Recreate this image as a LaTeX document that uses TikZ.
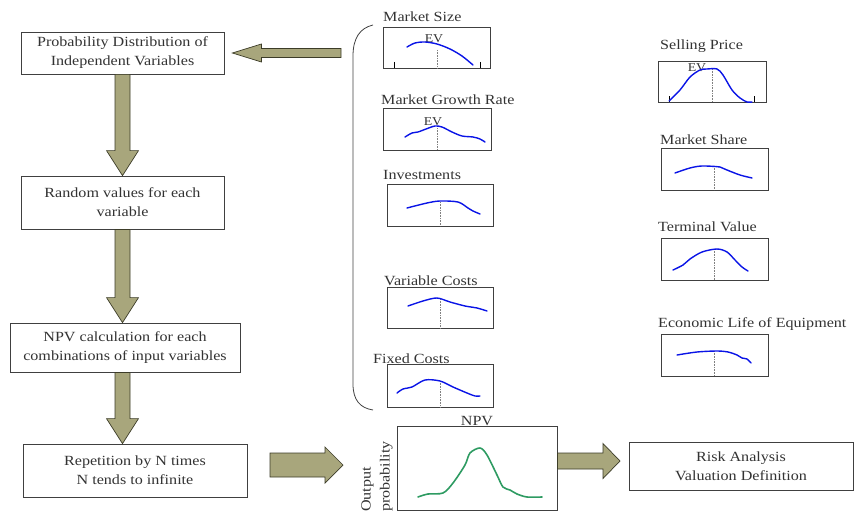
\documentclass[tikz,border=0pt]{standalone}
\usepackage{fontspec}
\setmainfont{Liberation Serif}[FakeStretch=1.15]
\usetikzlibrary{calc}
\definecolor{olivef}{HTML}{A8A67C}
\definecolor{olived}{HTML}{3C3C28}
\definecolor{txt}{HTML}{333333}
\definecolor{boxc}{HTML}{404040}
\definecolor{crvblue}{HTML}{0A14E6}
\definecolor{crvgreen}{HTML}{2E9B62}
\newcommand\fs{\fontsize{14}{19}\selectfont}
\newcommand\fsev{\fontsize{12}{13}\selectfont}
\newcommand\vblk[2]{\filldraw[blk] let \p1=(#1), \p2=(#2) in
 ({\x1-7.5pt},\y1) -- ({\x1+7.5pt},\y1) -- ({\x1+7.5pt},{\y2+25pt}) -- ({\x1+16pt},{\y2+25pt})
 -- (\x1,\y2) -- ({\x1-16pt},{\y2+25pt}) -- ({\x1-7.5pt},{\y2+25pt}) -- cycle;}
% right-pointing block arrow: start, tip, shaft half, head half, head length
\newcommand\rblk[5]{\filldraw[blk] let \p1=(#1), \p2=(#2) in
 (\x1,{\y1+#3pt}) -- ({\x2-#5pt},{\y1+#3pt}) -- ({\x2-#5pt},{\y1+#4pt}) -- (\x2,\y1)
 -- ({\x2-#5pt},{\y1-#4pt}) -- ({\x2-#5pt},{\y1-#3pt}) -- (\x1,{\y1-#3pt}) -- cycle;}
\newcommand\lblk[5]{\filldraw[blk] let \p1=(#1), \p2=(#2) in
 (\x1,{\y1+#3pt}) -- ({\x2+#5pt},{\y1+#3pt}) -- ({\x2+#5pt},{\y1+#4pt}) -- (\x2,\y1)
 -- ({\x2+#5pt},{\y1-#4pt}) -- ({\x2+#5pt},{\y1-#3pt}) -- (\x1,{\y1-#3pt}) -- cycle;}
\begin{document}
\begin{tikzpicture}[x=1pt,y=-1pt,
  box/.style={draw=boxc, line width=0.8pt, fill=white, inner sep=0pt, align=center, font=\fs, text=txt},
  blk/.style={fill=olivef, draw=olived, line width=0.7pt, line join=miter},
  gbox/.style={draw=boxc, line width=0.8pt, inner sep=0pt},
  lbl/.style={anchor=base west, inner sep=0pt, font=\fs, text=txt},
  evl/.style={inner sep=0pt, font=\fsev, text=txt},
  crv/.style={crvblue, line width=1.4pt, line cap=round, line join=round},
  evline/.style={draw=gray, densely dotted, line width=0.6pt},
  tick/.style={draw=black, line width=0.7pt},
]
\useasboundingbox (0,0) rectangle (854,511);

% left flow boxes
\node[box, minimum width=203pt, minimum height=42pt] (b1) at (122.5,53) {Probability Distribution of\\Independent Variables};
\node[box, minimum width=203pt, minimum height=53pt] (b2) at (122.5,202.5) {Random values for each\\variable};
\node[box, minimum width=230pt, minimum height=49pt] (b3) at (125,347.5) {NPV calculation for each\\combinations of input variables};
\node[box, minimum width=224pt, minimum height=53pt] (b4) at (135,470.5) {Repetition by N times\\N tends to infinite};
\node[box, minimum width=224pt, minimum height=48pt] (risk) at (741,466) {Risk Analysis\\Valuation Definition};

% block arrows
\vblk{b1.south}{b2.north}
\vblk{b2.south}{b3.north -| b2.south}
\vblk{b3.south -| b1.south}{b4.north -| b1.south}
\coordinate (a1s) at (341,53);
\coordinate (a1t) at ([xshift=8pt]b1.east);
\lblk{a1s}{a1t}{4.5}{9}{29}
\coordinate (a4s) at (270,465);
\coordinate (a4t) at (343,465);
\rblk{a4s}{a4t}{12}{18}{18}

% brace
\draw[boxc, line width=0.8pt] (373,25) .. controls (360,28) and (353,38) .. (353,56) -- (353,384) .. controls (353,400) and (360,408) .. (373,410);

% graph boxes
\node[gbox, minimum width=107pt, minimum height=41pt] (ms) at (436.5,47.5) {};
\node[gbox, minimum width=108pt, minimum height=42pt] (mg) at (437,129) {};
\node[gbox, minimum width=106pt, minimum height=42pt] (inv) at (440,205) {};
\node[gbox, minimum width=106pt, minimum height=41pt] (vc) at (440,307.5) {};
\node[gbox, minimum width=106pt, minimum height=43pt] (fc) at (440,385.5) {};
\node[gbox, minimum width=108pt, minimum height=41pt] (sp) at (712,81.5) {};
\node[gbox, minimum width=107pt, minimum height=42pt] (msh) at (714.5,169) {};
\node[gbox, minimum width=107pt, minimum height=42pt] (tv) at (714.5,259) {};
\node[gbox, minimum width=107pt, minimum height=42pt] (el) at (714.5,355) {};
\node[gbox, minimum width=160pt, minimum height=84pt] (npv) at (477,468) {};

% labels
\node[lbl] at (383,22) {Market Size};
\node[lbl] at (381,104) {Market Growth Rate};
\node[lbl] at (383,179) {Investments};
\node[lbl] at (384,285) {Variable Costs};
\node[lbl] at (373,363) {Fixed Costs};
\node[lbl] at (660,49) {Selling Price};
\node[lbl] at (660,144) {Market Share};
\node[lbl] at (658,231) {Terminal Value};
\node[lbl] at (658,327) {Economic Life of Equipment};
\node[lbl, anchor=base] at (477,425) {NPV};
\node[inner sep=0pt, font=\fs, text=txt, rotate=90, anchor=west, align=left] at (377,512) {Output\\probability};

% dotted EV lines
\draw[evline] (437,50) -- (437,68);
\draw[evline] (437,128) -- (437,150);
\draw[evline] (440,202) -- (440,226);
\draw[evline] (440,299) -- (440,328);
\draw[evline] (440,381) -- (440,407);
\draw[evline] (712,69) -- (712,102);
\draw[evline] (714,166) -- (714,190);
\draw[evline] (714,249) -- (714,280);
\draw[evline] (714,351) -- (714,376);

% ticks
\draw[tick] (394,62) -- (394,68);
\draw[tick] (480,62) -- (480,68);
\draw[tick] (669,96) -- (669,102);
\draw[tick] (754,96) -- (754,102);

% EV text
\node[evl] at (434,39) {EV};
\node[evl] at (433,122) {EV};
\node[evl] at (697,68) {EV};

% curves
\draw[crv] plot[smooth] coordinates {(407,47) (415,43) (425,42) (437,44) (450,49) (462,56) (473,65)};
\draw[crv] plot[smooth] coordinates {(405,137) (412,133) (418,132) (426,129) (435,126) (442,127) (452,132) (462,136) (473,137) (480,139) (485,142)};
\draw[crv] plot[smooth] coordinates {(407,208) (427,203) (440,201) (458,202) (468,208) (473,211) (480,214)};
\draw[crv] plot[smooth] coordinates {(408,306) (423,301) (437,298) (450,302) (465,306) (477,308) (487,311)};
\draw[crv] plot[smooth] coordinates {(397,393) (403,389) (412,387) (425,380) (440,381) (453,387) (467,393) (475,396) (480,396)};
\draw[crv] plot[smooth] coordinates {(669,101) (680,90) (690,77) (700,70) (707,69) (717,69) (723,75) (732,90) (740,98) (747,102) (752,102)};
\draw[crv] plot[smooth] coordinates {(675,173) (690,168) (702,166) (720,167) (727,170) (740,175) (752,178)};
\draw[crv] plot[smooth] coordinates {(673,270) (683,265) (690,259) (702,252) (717,249) (727,252) (735,260) (742,267) (748,271)};
\draw[crv] plot[smooth] coordinates {(677,355) (697,352) (717,351) (728,352) (737,355) (742,358) (747,359) (751,363)};
\draw[crv, crvgreen, line width=1.6pt] plot[smooth] coordinates {(418,497) (428,494) (443,493) (453,483) (465,465) (470,453) (480,448) (487,455) (497,475) (503,487) (510,490) (517,494) (527,497) (542,497)};

% NPV -> risk arrow
\coordinate (a5s) at (npv.east |- 0,461);
\coordinate (a5t) at (620,461);
\rblk{a5s}{a5t}{8}{17.5}{17}
\end{tikzpicture}
\end{document}
